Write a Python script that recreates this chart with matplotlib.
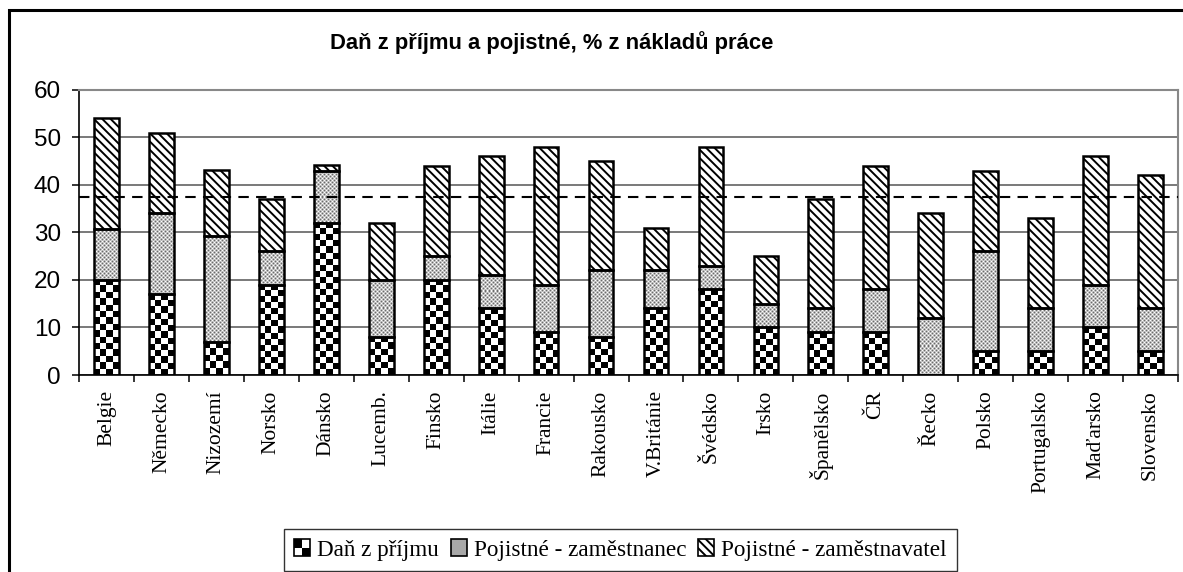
import numpy as np
import matplotlib
matplotlib.use("Agg")
import matplotlib.pyplot as plt
from matplotlib.patches import Rectangle
from matplotlib.legend_handler import HandlerBase

# Data: share of labour costs (%)
countries = ["Belgie", "Německo", "Nizozemí", "Norsko", "Dánsko", "Lucemb.",
             "Finsko", "Itálie", "Francie", "Rakousko", "V.Británie", "Švédsko",
             "Irsko", "Španělsko", "ČR", "Řecko", "Polsko", "Portugalsko",
             "Maďarsko", "Slovensko"]
income_tax = [20, 17, 7, 19, 32, 8, 20, 14, 9, 8, 14, 18, 10, 9, 9, 0, 5, 5, 10, 5]
employee = [10.7, 17, 22.3, 7, 11, 12, 5, 7, 10, 14, 8, 5, 5, 5, 9, 12, 21, 9, 9, 9]
employer = [23.3, 17, 13.9, 11, 1.2, 12, 19, 25, 29, 23, 9, 25, 10, 23, 26, 22, 17, 19, 27, 28]
average = 37.5

series_names = ["Daň z příjmu", "Pojistné - zaměstnanec", "Pojistné - zaměstnavatel"]
title = "Daň z příjmu a pojistné, % z nákladů práce"
yticks = [0, 10, 20, 30, 40, 50, 60]

plt.rcParams["hatch.linewidth"] = 1.4
DPI = 100
fig = plt.figure(figsize=(11.83, 5.72), dpi=DPI)
ax = fig.add_axes([0.0668, 0.3444, 0.929, 0.4983])

x = np.arange(len(countries))
tax = np.array(income_tax, dtype=float)
emp = np.array(employee, dtype=float)
empl = np.array(employer, dtype=float)
width = 0.45
edge_lw = 1.8

ax.set_xlim(-0.5, len(countries) - 0.5)
ax.set_ylim(0, 60)

# pixel scale of the data units, used to size the fill textures
ax_w_px = 0.929 * 11.83 * DPI
ax_h_px = 0.4983 * 5.72 * DPI
px_x = ax_w_px / len(countries)
px_y = ax_h_px / 60.0

# employer contributions: diagonal stripes
ax.bar(x, empl, width, bottom=tax + emp, color="white", edgecolor="black",
       hatch="\\\\\\\\", linewidth=edge_lw, zorder=3)

# employee contributions: fine grey texture
tile = np.array([[1.00, 0.72, 0.42, 0.72],
                 [0.72, 0.80, 0.72, 0.80],
                 [0.42, 0.72, 1.00, 0.72],
                 [0.72, 0.80, 0.72, 0.80]])
emp_bars = ax.bar(x, emp, width, bottom=tax, color="none", edgecolor="black",
                  linewidth=edge_lw, zorder=3)
for xi, b, h, bar in zip(x, tax, emp, emp_bars):
    if h <= 0:
        continue
    nw = max(1, int(round(width * px_x)))
    nh = max(1, int(round(h * px_y)))
    tex = np.tile(tile, (nh // 4 + 1, nw // 4 + 1))[:nh, :nw]
    im = ax.imshow(tex, cmap="gray", vmin=0, vmax=1, interpolation="nearest",
                   extent=(xi - width / 2, xi + width / 2, b, b + h),
                   aspect="auto", zorder=2)
    im.set_clip_path(bar)

# income tax: checkerboard
tax_bars = ax.bar(x, tax, width, color="none", edgecolor="black",
                  linewidth=edge_lw, zorder=3)
for xi, h, bar in zip(x, tax, tax_bars):
    if h <= 0:
        continue
    ncol = 4
    nrow = max(1, int(round(h * px_y / 6.2)))
    checker = (np.add.outer(np.arange(nrow), np.arange(ncol)) % 2).astype(float)
    im = ax.imshow(checker, cmap="gray", vmin=0, vmax=1, interpolation="nearest",
                   extent=(xi - width / 2, xi + width / 2, 0, h),
                   aspect="auto", zorder=2)
    im.set_clip_path(bar)

ax.set_xlim(-0.5, len(countries) - 0.5)
ax.set_ylim(0, 60)

# average line
ax.axhline(average, color="black", linestyle=(0, (5, 3.5)), linewidth=1.5, zorder=5)

# axes styling
ax.set_axisbelow(True)
ax.yaxis.grid(True, color="#555555", linewidth=1.1)
ax.set_yticks(yticks)
ax.set_yticklabels([str(t) for t in yticks], fontfamily="Liberation Sans", fontsize=17.5)
ax.tick_params(axis="y", length=5, width=1.1, pad=8)

ax.set_xticks(x)
ax.set_xticklabels(countries, rotation=90, fontfamily="Liberation Serif", fontsize=15.5)
ax.set_xticks(np.arange(-0.5, len(countries), 1.0), minor=True)
ax.tick_params(axis="x", which="major", length=0, pad=11)
ax.tick_params(axis="x", which="minor", length=5, width=1.1)

ax.spines["left"].set_linewidth(1.2)
ax.spines["bottom"].set_linewidth(1.2)
ax.spines["right"].set_color("#888888")
ax.spines["top"].set_color("#888888")
ax.spines["right"].set_linewidth(1.5)
ax.spines["top"].set_linewidth(1.5)

fig.text(0.4665, 1 - 43 / 572, title, ha="center", va="center",
         fontfamily="Liberation Sans", fontweight="bold", fontsize=15.8)


class CheckerHandler(HandlerBase):
    def create_artists(self, legend, orig_handle, xdescent, ydescent,
                       width, height, fontsize, trans):
        s = height
        x0 = -xdescent + (width - s) / 2
        y0 = -ydescent
        h = s / 2
        arts = [Rectangle((x0, y0), s, s, facecolor="white", edgecolor="none"),
                Rectangle((x0, y0 + h), h, h, facecolor="black", edgecolor="none"),
                Rectangle((x0 + h, y0), h, h, facecolor="black", edgecolor="none"),
                Rectangle((x0, y0), s, s, facecolor="none", edgecolor="black", linewidth=1.2)]
        for a in arts:
            a.set_transform(trans)
        return arts


h_tax = Rectangle((0, 0), 1, 1)
h_emp = Rectangle((0, 0), 1, 1, facecolor="#a8a8a8", edgecolor="black",
                  linewidth=1.2)
h_empl = Rectangle((0, 0), 1, 1, facecolor="white", edgecolor="black",
                   hatch="\\\\\\\\", linewidth=1.2)
leg = fig.legend([h_tax, h_emp, h_empl], series_names, loc="upper center",
                 bbox_to_anchor=(0.5245, 1 - 529 / 572), ncol=3, frameon=True,
                 fancybox=False, edgecolor="black", handlelength=0.7,
                 handleheight=0.7, handletextpad=0.3, columnspacing=0.5,
                 borderpad=0.45, borderaxespad=0,
                 prop={"family": "Liberation Serif", "size": 16.7},
                 handler_map={h_tax: CheckerHandler()})
leg.get_frame().set_linewidth(1.0)

# outer frame of the chart
fig.patches.append(Rectangle((9 / 1183, -0.05), 1.1, 1 - 10 / 572 + 0.05,
                             transform=fig.transFigure, fill=False,
                             edgecolor="black", linewidth=2.2))

fig.savefig("out.png", dpi=DPI)
